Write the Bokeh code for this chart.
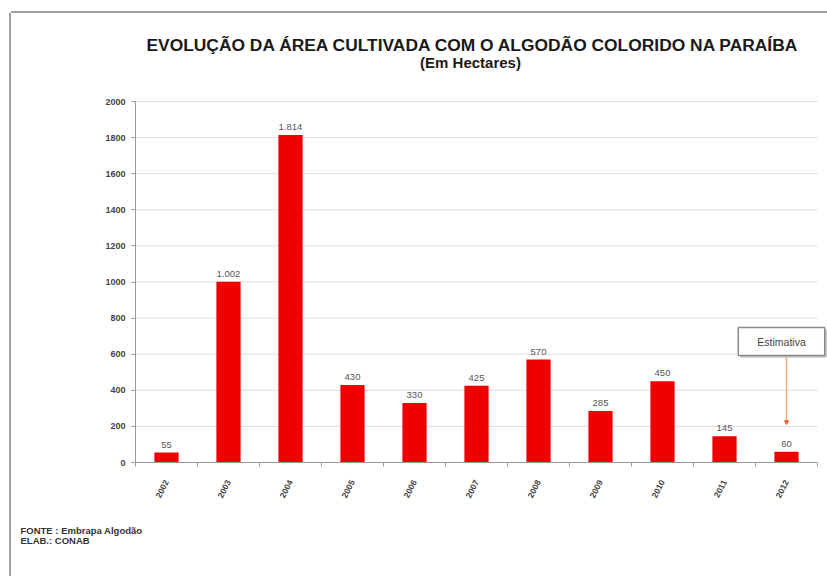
from bokeh.plotting import figure
from bokeh.models import (Range1d, FixedTicker, ColumnDataSource, LabelSet, Label,
                          Arrow, NormalHead, Title)
from bokeh.core.properties import value
from bokeh.embed import file_html
from bokeh.resources import INLINE

years = ["2002", "2003", "2004", "2005", "2006", "2007", "2008", "2009", "2010", "2011", "2012"]
area_ha = [55, 1002, 1814, 430, 330, 425, 570, 285, 450, 145, 60]
y_ticks = [0, 200, 400, 600, 800, 1000, 1200, 1400, 1600, 1800, 2000]

title_text = "EVOLUÇÃO DA ÁREA CULTIVADA COM O ALGODÃO COLORIDO NA PARAÍBA"
subtitle_text = "(Em Hectares)"
source_lines = ["FONTE : Embrapa Algodão", "ELAB.: CONAB"]
estimate_text = "Estimativa"

FONT = "Liberation Sans"
W, H = 827, 576
OX, OY = 11, 13  # picture frame corner
FL, FR, FT, FB = 135, 817, 101, 462  # axis box edges in window pixels
Y_MAX = 2000
n = len(years)
# the plot frame runs to the top and right edges so that titles and the note fit inside it
y_top = Y_MAX * (FB - OY) / (FB - FT)
x_right = (n - 0.5) + (W - FR) * n / (FR - FL)

xs = list(range(n))
labels = [f"{v:,}".replace(",", ".") for v in area_ha]
src = ColumnDataSource(dict(x=xs, y=area_ha, lab=labels))
grid_src = ColumnDataSource(dict(x0=[-0.5] * (len(y_ticks) - 1), x1=[n - 0.5] * (len(y_ticks) - 1),
                                 y=y_ticks[1:]))

p = figure(width=W - OX, height=H - OY, output_backend="svg", toolbar_location=None,
           x_range=Range1d(-0.5, x_right), y_range=Range1d(0, y_top),
           min_border_left=FL - OX, min_border_right=0,
           min_border_top=0, min_border_bottom=H - FB)
p.margin = (OY, 0, 0, OX)
p.styles = {"box-shadow": "-2px 0 0 0 #a0a0a0, 0 -2px 0 0 #a0a0a0"}
p.outline_line_color = None
p.background_fill_color = "white"
p.border_fill_color = "white"

# horizontal grid lines, limited to the category span
p.segment(x0="x0", x1="x1", y0="y", y1="y", source=grid_src, line_color="#dddddd",
          line_width=1, level="underlay")

p.vbar(x="x", top="y", width=0.39, source=src, fill_color="#f00000", line_color=None)

p.add_layout(LabelSet(x="x", y="y", text="lab", source=src, text_align="center",
                      text_baseline="bottom", y_offset=5, text_font_size="9.5px",
                      text_color="#555555", text_font=value(FONT)))

# axes
p.xaxis.ticker = FixedTicker(ticks=xs, minor_ticks=[i - 0.5 for i in range(n + 1)])
p.xaxis.bounds = (-0.5, n - 0.5)
p.xaxis.major_label_overrides = {i: y for i, y in enumerate(years)}
p.xaxis.major_label_orientation = 1.1
p.xaxis.major_tick_line_color = None
p.xaxis.minor_tick_in = 0
p.xaxis.minor_tick_out = 4
p.xaxis.minor_tick_line_color = "#999999"
p.xaxis.axis_line_color = "#999999"
p.xaxis.major_label_text_font_size = "8.5px"
p.xaxis.major_label_text_font_style = "bold"
p.xaxis.major_label_text_color = "#444444"
p.xaxis.major_label_text_font = FONT
p.xaxis.major_label_standoff = 12

p.yaxis.ticker = FixedTicker(ticks=y_ticks)
p.yaxis.bounds = (0, Y_MAX)
p.yaxis.minor_tick_line_color = None
p.yaxis.major_tick_in = 0
p.yaxis.major_tick_out = 4
p.yaxis.major_tick_line_color = "#999999"
p.yaxis.axis_line_color = "#999999"
p.yaxis.major_label_text_font_size = "9px"
p.yaxis.major_label_text_font_style = "bold"
p.yaxis.major_label_text_color = "#444444"
p.yaxis.major_label_text_font = FONT
p.yaxis.major_label_standoff = 6

p.xgrid.grid_line_color = None
p.ygrid.grid_line_color = None

# estimate annotation
p.add_layout(Arrow(x_start=n - 1, y_start=590, x_end=n - 1, y_end=210,
                   line_color="#f2b07a", line_width=1.5,
                   end=NormalHead(size=4, fill_color="#e8601c", line_color="#e8601c")))
p.add_layout(Label(x=n - 1, y=670, text=estimate_text, text_align="center",
                   text_baseline="middle", text_font_size="10.5px", text_color="#bdbdbd",
                   text_font=FONT, background_fill_color="#bdbdbd",
                   padding=(19, 8), x_offset=-3, y_offset=-2))
p.add_layout(Label(x=n - 1, y=670, text=estimate_text, text_align="center",
                   text_baseline="middle", text_font_size="10.5px", text_color="#444444",
                   text_font=FONT, border_line_color="#8a8a8a", border_line_width=1.5,
                   background_fill_color="white", padding=(19, 8), x_offset=-5))

# titles (screen units are measured from the frame's bottom-left corner)
p.add_layout(Label(x=473 - FL, y=FB - 44, x_units="screen", y_units="screen", text=title_text,
                   text_align="center", text_baseline="middle", text_font_size="17.4px",
                   text_font_style="bold", text_color="#1a1a1a", text_font=FONT))
p.add_layout(Label(x=470 - FL, y=FB - 62, x_units="screen", y_units="screen", text=subtitle_text,
                   text_align="center", text_baseline="middle", text_font_size="15px",
                   text_font_style="bold", text_color="#1a1a1a", text_font=FONT))
p.add_layout(Title(text="\n".join(source_lines), align="left", text_font_size="9.5px",
                   text_font_style="bold", text_color="#333333", text_font=FONT,
                   text_line_height=0.95, standoff=39, offset=-115), "below")

open("out.html", "w").write(file_html(p, INLINE))
